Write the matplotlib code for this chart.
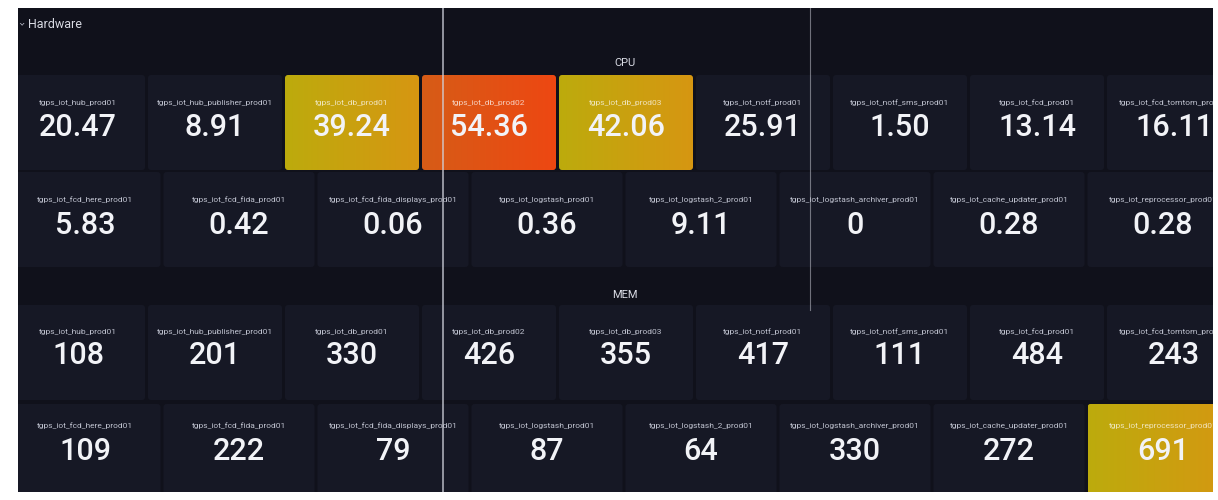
import matplotlib.pyplot as plt
from matplotlib.patches import FancyBboxPatch, Rectangle
import numpy as np

plt.rcParams['font.family'] = ['Roboto', 'DejaVu Sans']

# data
cpu_names_1 = ['tgps_iot_hub_prod01', 'tgps_iot_hub_publisher_prod01', 'tgps_iot_db_prod01',
               'tgps_iot_db_prod02', 'tgps_iot_db_prod03', 'tgps_iot_notf_prod01',
               'tgps_iot_notf_sms_prod01', 'tgps_iot_fcd_prod01', 'tgps_iot_fcd_tomtom_prod01']
cpu_values_1 = [20.47, 8.91, 39.24, 54.36, 42.06, 25.91, 1.50, 13.14, 16.11]
cpu_names_2 = ['tgps_iot_fcd_here_prod01', 'tgps_iot_fcd_fida_prod01', 'tgps_iot_fcd_fida_displays_prod01',
               'tgps_iot_logstash_prod01', 'tgps_iot_logstash_2_prod01', 'tgps_iot_logstash_archiver_prod01',
               'tgps_iot_cache_updater_prod01', 'tgps_iot_reprocessor_prod01']
cpu_values_2 = [5.83, 0.42, 0.06, 0.36, 9.11, 0, 0.28, 0.28]
mem_names_1 = cpu_names_1
mem_values_1 = [108, 201, 330, 426, 355, 417, 111, 484, 243]
mem_names_2 = cpu_names_2
mem_values_2 = [109, 222, 79, 87, 64, 330, 272, 691]

cpu_thresholds = (30, 50)
mem_thresholds = (600, 800)

# colours
page_bg = '#ffffff'
dash_bg = '#10111b'
tile_bg = '#161825'
yellow = [(0.74, 0.67, 0.05), (0.84, 0.59, 0.07)]
orange = [(0.84, 0.36, 0.09), (0.93, 0.28, 0.07)]

fig = plt.figure(figsize=(12.18, 5.0), dpi=100)
fig.patch.set_facecolor(page_bg)
ax = fig.add_axes([0, 0, 1, 1])
ax.set_xlim(0, 1218)
ax.set_ylim(500, 0)
ax.axis('off')

ax.add_patch(Rectangle((18, 8), 1195, 484, facecolor=dash_bg, edgecolor='none', zorder=0))


def fmt_cpu(v):
    return '0' if v == 0 else f'{v:.2f}'


def fmt_mem(v):
    return f'{v:d}'


def draw_row(names, values, fmt, thresholds, y0, h, cx0, pitch, w, label_dy, value_dy):
    for i, (name, v) in enumerate(zip(names, values)):
        cx = cx0 + pitch * i
        x0 = cx - w / 2
        grad = None
        if v >= thresholds[1]:
            grad = orange
        elif v >= thresholds[0]:
            grad = yellow
        box = FancyBboxPatch((x0, y0), w, h, boxstyle='round,pad=0,rounding_size=3',
                             facecolor=tile_bg if grad is None else 'none',
                             edgecolor='none', zorder=1)
        ax.add_patch(box)
        if grad is not None:
            g = np.linspace(0, 1, 64)[None, :, None]
            c0 = np.array(grad[0])[None, None, :]
            c1 = np.array(grad[1])[None, None, :]
            img = c0 * (1 - g) + c1 * g
            im = ax.imshow(img, extent=(x0, x0 + w, y0 + h, y0), aspect='auto',
                           interpolation='bilinear', zorder=1.5)
            im.set_clip_path(box)
            lab_col = (1, 1, 1, 0.72)
        else:
            lab_col = '#bfc2cf'
        ax.text(cx, y0 + label_dy, name, ha='center', va='center', fontsize=6,
                color=lab_col, zorder=3)
        ax.text(cx, y0 + value_dy, fmt(v), ha='center', va='center', fontsize=22,
                fontweight='medium', color='#f2f3f7', zorder=3)


# header
ax.text(20, 24, '›', rotation=-90, ha='center', va='center', fontsize=8,
        color='#b8bbc8', family='DejaVu Sans')
ax.text(28, 24, 'Hardware', ha='left', va='center', fontsize=9, color='#d8dae3')

ax.text(625, 63, 'CPU', ha='center', va='center', fontsize=8, color='#d8dae3')
draw_row(cpu_names_1, cpu_values_1, fmt_cpu, cpu_thresholds, 75, 95, 78, 137, 134, 28, 53)
draw_row(cpu_names_2, cpu_values_2, fmt_cpu, cpu_thresholds, 172, 95, 85, 154, 151, 28, 53)

ax.text(625, 295, 'MEM', ha='center', va='center', fontsize=8, color='#d8dae3')
draw_row(mem_names_1, mem_values_1, fmt_mem, mem_thresholds, 305, 95, 78, 137, 134, 27, 51)
draw_row(mem_names_2, mem_values_2, fmt_mem, mem_thresholds, 404, 95, 85, 154, 151, 22, 48)

# white page edges over the tiles
ax.add_patch(Rectangle((0, 0), 18, 500, facecolor=page_bg, edgecolor='none', zorder=5))
ax.add_patch(Rectangle((1213, 0), 5, 500, facecolor=page_bg, edgecolor='none', zorder=5))
ax.add_patch(Rectangle((0, 0), 1218, 8, facecolor=page_bg, edgecolor='none', zorder=5))
ax.add_patch(Rectangle((0, 492), 1218, 8, facecolor=page_bg, edgecolor='none', zorder=5))

# screen-photo streaks
ax.axvline(443, ymin=0.016, ymax=0.984, color='#d0d2dc', lw=1.2, alpha=0.8, zorder=4)
ax.axvline(810, ymin=0.38, ymax=0.984, color='#d0d2dc', lw=0.8, alpha=0.5, zorder=4)

fig.savefig('out.png', dpi=100, facecolor=page_bg)
